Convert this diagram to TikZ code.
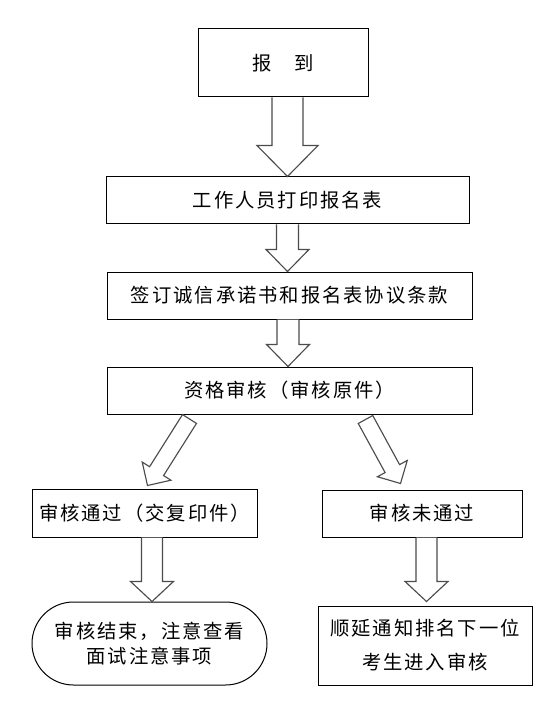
\documentclass[tikz,border=0pt]{standalone}
\usepackage{fontspec}
\setmainfont{Noto Sans CJK SC}[LetterSpace=10]
\usetikzlibrary{calc}
\tikzset{
  box/.style={draw=black, line width=0.75pt, inner sep=0pt, align=center,
    font=\fontsize{14.5}{18}\selectfont},
  blockarr/.style={draw=black!70, line width=0.85pt, line join=miter, fill=white}
}
% #1 from, #2 to, #3 half shaft, #4 half head, #5 head length, #6 ending
\newcommand\blockarrow[6]{%
  \coordinate (ba-s) at (#1);
  \coordinate (ba-t) at (#2);
  \coordinate (ba-h) at ($(ba-t)!#5!(ba-s)$);
  \draw[blockarr] ($(ba-s)!#3!90:(ba-t)$) -- ($(ba-h)!#3!-90:(ba-s)$)
    -- ($(ba-h)!#4!-90:(ba-s)$) -- (ba-t) -- ($(ba-h)!#4!90:(ba-s)$)
    -- ($(ba-h)!#3!90:(ba-s)$) -- ($(ba-s)!#3!-90:(ba-t)$) #6;
}
\begin{document}
\begin{tikzpicture}[x=0.75pt,y=-0.75pt]
\useasboundingbox (0,0) rectangle (552,716);
\fill[white] (0,0) rectangle (552,716);

\node[box, minimum width=170*0.75pt, minimum height=68*0.75pt] (b1) at (283,63) {报　到};
\node[box, minimum width=363*0.75pt, minimum height=47*0.75pt] (b2) at (287.5,200.5) {工作人员打印报名表};
\node[box, minimum width=365*0.75pt, minimum height=47*0.75pt] (b3) at (289.5,295.5) {签订诚信承诺书和报名表协议条款};
\node[box, minimum width=365*0.75pt, minimum height=47*0.75pt] (b4) at (289.5,390.5) {资格审核（审核原件）};
\node[box, minimum width=225*0.75pt, minimum height=48*0.75pt] (b5) at (144.5,513) {审核通过（交复印件）};
\node[box, minimum width=200*0.75pt, minimum height=47*0.75pt] (b6) at (422,513.5) {审核未通过};
\node[box, minimum width=235*0.75pt, minimum height=83*0.75pt, rounded corners=41.5*0.75pt,
  font=\fontsize{14.5}{18.75}\selectfont] (b7) at (149.5,643.5) {审核结束，注意查看\\面试注意事项};
\node[box, minimum width=214*0.75pt, minimum height=79*0.75pt,
  font=\fontsize{14.5}{25.5}\selectfont] (b8) at (425,645.5) {顺延通知排名下一位\\考生进入审核};

\coordinate (a1s) at (b2.north |- b1.south);
\coordinate (a2s) at (b2.south);
\coordinate (a2t) at (b2.south |- b3.north);
\coordinate (a3s) at ($(b3.south)+(-1.5,0)$);
\coordinate (a3t) at (a3s |- b4.north);
\coordinate (dls) at ($(b4.south west)+(83,4.5)$);
\coordinate (dlt) at ($(b5.north west)+(116,-3)$);
\coordinate (drs) at ($(b4.south east)+(-107,5)$);
\coordinate (drt) at ($(b6.north west)+(79,-6)$);
\coordinate (a4s) at ($(b5.south)+(7.5,0)$);
\coordinate (a4t) at (a4s |- b7.north);
\coordinate (a5s) at ($(b6.south)+(4.5,0)$);
\coordinate (a5t) at ($(a5s |- b8.north)+(0,-4)$);

\blockarrow{a1s}{b2.north}{11.6pt}{22.9pt}{23.25pt}{}
\blockarrow{a2s}{a2t}{8.25pt}{16.1pt}{16.5pt}{}
\blockarrow{a3s}{a3t}{8.25pt}{16.1pt}{16.5pt}{}
\blockarrow{dls}{dlt}{6.2pt}{12.75pt}{12.75pt}{-- cycle}
\blockarrow{drs}{drt}{6.2pt}{12.75pt}{12.75pt}{-- cycle}
\blockarrow{a4s}{a4t}{7.9pt}{16.1pt}{15pt}{}
\blockarrow{a5s}{a5t}{7.9pt}{16.1pt}{15pt}{}
\end{tikzpicture}
\end{document}
